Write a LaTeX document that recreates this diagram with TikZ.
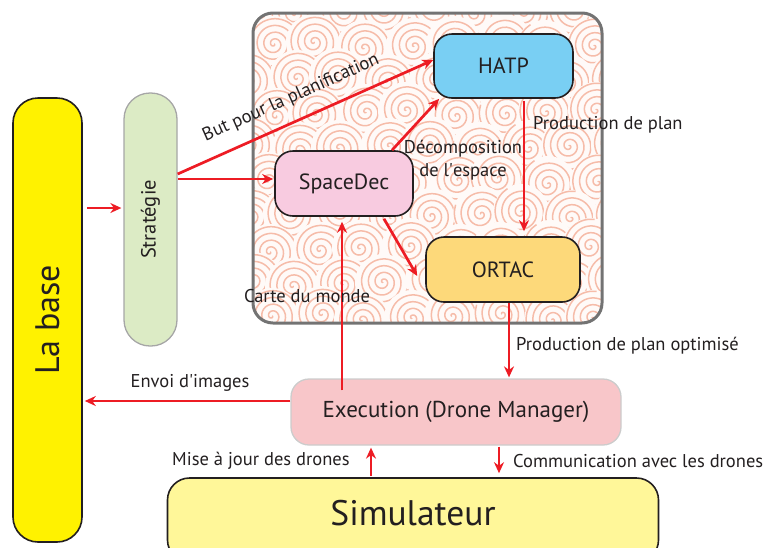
\documentclass[tikz,border=0pt]{standalone}
\usepackage{fontspec}
\setmainfont{PT Sans}
\usetikzlibrary{arrows.meta,calc}
\newcommand{\sq}{\XeTeXglyph\XeTeXcharglyph"27\relax}
\definecolor{ared}{HTML}{ED1C24}
\definecolor{txt}{HTML}{231F20}
\definecolor{baseY}{HTML}{FFF200}
\definecolor{simY}{HTML}{FFF799}
\definecolor{stratG}{HTML}{DCEBC5}
\definecolor{hatpB}{HTML}{79CFF3}
\definecolor{spaceP}{HTML}{F8CBE0}
\definecolor{ortacO}{HTML}{FDD97A}
\definecolor{execP}{HTML}{F8C6C9}
\definecolor{spiralC}{HTML}{F6BCA9}
\definecolor{bgC}{HTML}{FFFAF8}
\tikzset{
  box/.style={draw=txt, line width=1.6pt, rounded corners=18pt, text=txt, inner sep=0pt},
  arr/.style={draw=ared, line width=2.7pt, -{Stealth[length=11pt,width=10pt]}},
  lbl/.style={text=txt, font=\fontsize{18.5}{21}\selectfont, inner sep=0pt},
  spiralline/.style={draw=spiralC, line width=1.5pt}
}
\begin{document}
\begin{tikzpicture}[x=1pt,y=-1pt]
\useasboundingbox (0,0) rectangle (768,547);
% planning container with spiral pattern
\begin{scope}
  \clip[rounded corners=20pt] (253,13) rectangle (602,323);
  \fill[bgC] (253,13) rectangle (602,323);
  \foreach \j in {0,...,9}{
    \foreach \i in {0,...,8}{
      \pgfmathsetmacro{\cx}{245+\i*46+mod(\j,2)*23+mod(\i*7+\j*3,5)*2}
      \pgfmathsetmacro{\cy}{8+\j*34+mod(\i*3+\j,4)*2}
      \begin{scope}[shift={(\cx,\cy)}]
        \fill[bgC] (0,0) circle (28pt);
        \draw[spiralline] plot[domain=0:1440, samples=100, smooth, variable=\t] ({\t+\i*40}:{\t/1440*27});
      \end{scope}
    }
  }
\end{scope}
\draw[draw=gray!90!black, line width=3pt, rounded corners=20pt] (253,13) rectangle (602,323);
% nodes
\node[box, fill=baseY, minimum width=69pt, minimum height=444pt, rounded corners=25pt] (base) at (47.5,320) {};
\node[rotate=90, text=txt, font=\fontsize{34}{36}\selectfont] at (base.center) {La base};
\node[box, draw=gray!70, line width=1.3pt, fill=stratG, minimum width=53pt, minimum height=253pt, rounded corners=26pt] (strat) at (150.5,219.5) {};
\node[rotate=90, text=txt, font=\fontsize{20.5}{22}\selectfont] at (strat.center) {Stratégie};
\node[box, fill=hatpB, minimum width=139pt, minimum height=64pt, font=\fontsize{22}{24}\selectfont] (hatp) at (503.5,66) {HATP};
\node[box, fill=spaceP, minimum width=138pt, minimum height=65pt, font=\fontsize{22}{24}\selectfont] (space) at (344,183.5) {SpaceDec};
\node[box, fill=ortacO, minimum width=154pt, minimum height=65pt, font=\fontsize{22}{24}\selectfont] (ortac) at (503,269.5) {ORTAC};
\node[box, draw=gray!40, line width=1.3pt, fill=execP, minimum width=330pt, minimum height=66pt, font=\fontsize{23}{25}\selectfont] (exec) at (456,412) {Execution (Drone Manager)};
\node[box, fill=simY, minimum width=491pt, minimum height=84pt, rounded corners=22pt] (sim) at (413,520) {};
\node[text=txt, font=\fontsize{35.5}{37}\selectfont] at (413,513) {Simulateur};
% connectors
\draw[arr] ($(base.east)+(4,-112)$) -- ($(strat.west)+(-2,-11.5)$);
\draw[arr] ($(strat.east)+(0,-45.5)$) -- ($(hatp.west)+(0,-6)$);
\draw[arr] ($(strat.east)+(0,-40.5)$) -- ($(space.west)+(-1,-4.5)$);
\draw[arr] ($(space.north)+(48,0)$) -- ($(hatp.south west)+(6,0)$);
\draw[arr] ($(hatp.south)+(20.5,2)$) -- ($(ortac.north)+(21,-5)$);
\draw[arr] ($(space.south)+(40,2)$) -- ($(ortac.west)+(-8,6.5)$);
\draw[arr] ($(exec.north)+(-114,12)$) -- ($(space.south)+(-2,5)$);
\draw[arr] ($(ortac.south)+(6,0)$) -- ($(exec.north)+(53,-1)$);
\draw[arr] ($(exec.west)+(0,-11)$) -- ($(base.east)+(2,81)$);
\draw[arr] ($(sim.north)+(-42,-1)$) -- ($(exec.south)+(-85,2)$);
\draw[arr] ($(exec.south)+(43,1)$) -- ($(sim.north)+(86,-4)$);
% labels
\node[lbl, rotate=24] at (291,98) {But pour la planification};
\node[lbl, align=center, font=\fontsize{18.5}{23}\selectfont] at (463,160) {Décomposition\\de l\sq espace};
\node[lbl, anchor=west] at (533,125) {Production de plan};
\node[lbl] at (307,296) {Carte du monde};
\node[lbl, anchor=west] at (516,346) {Production de plan optimisé};
\node[lbl] at (190,383) {Envoi d\sq images};
\node[lbl, anchor=west] at (172,461) {Mise à jour des drones};
\node[lbl, anchor=west] at (513,461) {Communication avec les drones};
\end{tikzpicture}
\end{document}
